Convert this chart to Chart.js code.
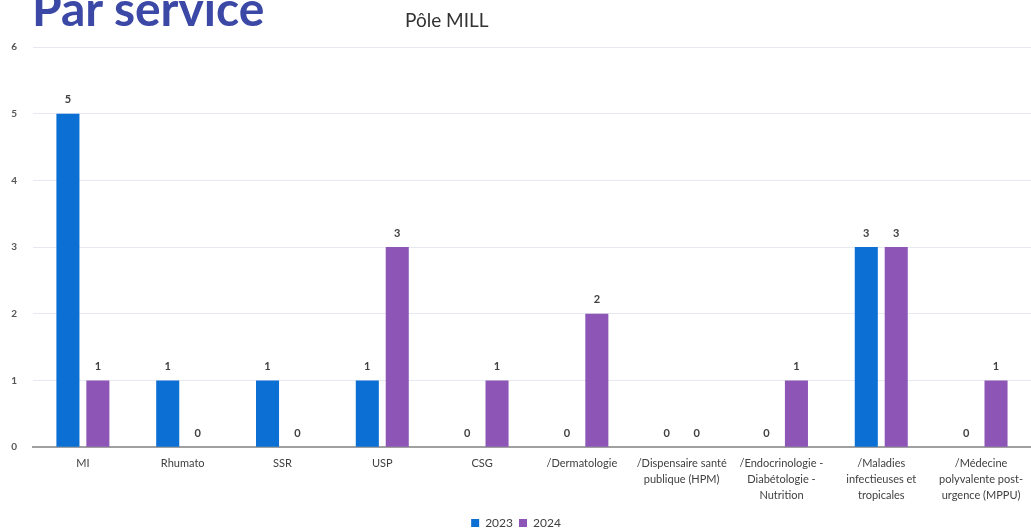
<!DOCTYPE html>
<html>
<head>
<meta charset="utf-8">
<script src="https://cdn.jsdelivr.net/npm/chart.js@4/dist/chart.umd.min.js"></script>
<style>
  html, body { margin: 0; padding: 0; background: #ffffff; }
  #wrap { position: relative; width: 1031px; height: 529px; overflow: hidden; }
  #c { position: absolute; left: 0; top: 0; }
  .heading { position: absolute; left: 32px; top: -21px; font-family: Lato, "Open Sans", sans-serif; font-weight: 700; font-size: 48px; color: #3B48A6; z-index: 2; }
  .subheading { position: absolute; left: 405px; top: 8px; font-family: Lato, "Open Sans", sans-serif; font-size: 19px; color: #333333; z-index: 2; }
</style>
</head>
<body>
<div id="wrap">
  <div class="heading">Par service</div>
  <div class="subheading">Pôle MILL</div>
  <canvas id="c" width="1031" height="529"></canvas>
</div>
<script>
// Services of the MILL pole
const categories = [
  ["MI"],
  ["Rhumato"],
  ["SSR"],
  ["USP"],
  ["CSG"],
  ["/Dermatologie"],
  ["/Dispensaire santé", "publique (HPM)"],
  ["/Endocrinologie -", "Diabétologie -", "Nutrition"],
  ["/Maladies", "infectieuses et", "tropicales"],
  ["/Médecine", "polyvalente post-", "urgence (MPPU)"]
];
const values2023 = [5, 1, 1, 1, 0, 0, 0, 0, 3, 0];
const values2024 = [1, 0, 0, 3, 1, 2, 0, 1, 3, 1];
const yTicks = [0, 1, 2, 3, 4, 5, 6];

// Writes each bar's value just above it
const valueLabels = {
  id: 'valueLabels',
  afterDatasetsDraw(chart) {
    const ctx = chart.ctx;
    ctx.save();
    ctx.font = 'bold 11px Lato, "Open Sans", sans-serif';
    ctx.fillStyle = '#404040';
    ctx.textAlign = 'center';
    ctx.textBaseline = 'middle';
    chart.data.datasets.forEach((ds, i) => {
      chart.getDatasetMeta(i).data.forEach((bar, j) => {
        ctx.fillText(String(ds.data[j]), bar.x, bar.y - 14);
      });
    });
    ctx.restore();
  }
};

new Chart(document.getElementById('c'), {
  type: 'bar',
  data: {
    labels: categories,
    datasets: [
      { label: '2023', data: values2023, backgroundColor: '#0B6FD3', categoryPercentage: 0.6, barPercentage: 0.77 },
      { label: '2024', data: values2024, backgroundColor: '#8C55B6', categoryPercentage: 0.6, barPercentage: 0.77 }
    ]
  },
  options: {
    responsive: false,
    animation: false,
    layout: { padding: { top: 47, right: -1, left: 0, bottom: -10 } },
    plugins: {
      legend: {
        position: 'bottom',
        labels: {
          boxWidth: 8, boxHeight: 8, padding: 6,
          color: '#404040',
          font: { family: 'Lato, "Open Sans", sans-serif', size: 12 }
        }
      },
      tooltip: { enabled: false }
    },
    scales: {
      x: {
        grid: { display: false, drawTicks: false },
        border: { display: true, color: '#a0a0a0', width: 2 },
        ticks: {
          color: '#404040',
          padding: 8,
          maxRotation: 0,
          autoSkip: false,
          font: { family: 'Lato, "Open Sans", sans-serif', size: 11, lineHeight: 1.45 }
        }
      },
      y: {
        min: 0, max: 6,
        afterBuildTicks(axis) { axis.ticks = yTicks.map(v => ({ value: v })); },
        afterFit(axis) { axis.width = 33; },
        grid: { color: '#e6e9ef', drawTicks: false },
        border: { display: false },
        ticks: {
          color: '#555555',
          padding: 16,
          align: 'center',
          font: { family: 'Lato, "Open Sans", sans-serif', size: 10, weight: 'bold' }
        }
      }
    }
  },
  plugins: [valueLabels]
});
</script>
</body>
</html>
